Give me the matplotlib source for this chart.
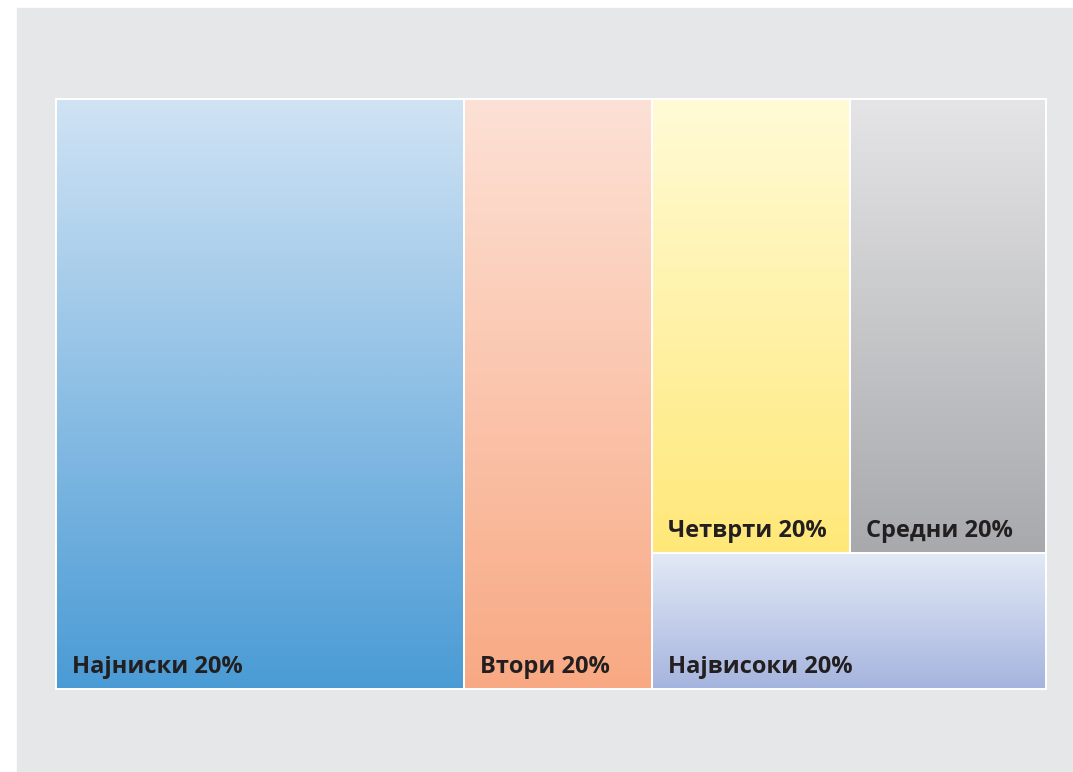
import numpy as np
import matplotlib.pyplot as plt
from matplotlib.colors import to_rgb
from matplotlib.patches import Rectangle

# quintile labels and their shares (read from the tile areas)
names = ['Најниски 20%', 'Втори 20%', 'Четврти 20%', 'Средни 20%', 'Највисоки 20%']
shares = [41.2, 19.0, 15.4, 15.2, 9.2]
top_colors = ['#d0e3f4', '#fde1d6', '#fffbd6', '#e5e5e7', '#e3eaf6']
bottom_colors = ['#4a9bd5', '#f8a983', '#ffe878', '#a8a9ac', '#a5b4de']

# slice-and-dice nesting: columns, then rows, then columns
tree = [0, 1, [[2, 3], 4]]


def total(node):
    if isinstance(node, int):
        return shares[node]
    return sum(total(c) for c in node)


def layout(node, x0, y0, x1, y1, horiz, out):
    if isinstance(node, int):
        out[node] = (x0, y0, x1, y1)
        return
    s = total(node)
    pos = x0 if horiz else y0
    for child in node:
        frac = total(child) / s
        if horiz:
            nxt = pos + frac * (x1 - x0)
            layout(child, pos, y0, nxt, y1, not horiz, out)
        else:
            nxt = pos + frac * (y1 - y0)
            layout(child, x0, pos, x1, nxt, not horiz, out)
        pos = nxt


W, H = 1073, 772
fig = plt.figure(figsize=(W / 100, H / 100), dpi=100)
ax = fig.add_axes([0, 0, 1, 1])
ax.set_xlim(0, W)
ax.set_ylim(H, 0)
ax.axis('off')

# grey panel
ax.add_patch(Rectangle((17, 8), W - 17, H - 8, color='#e6e7e8', zorder=0))

rects = {}
layout(tree, 56, 99, 1046, 689, True, rects)

for i, name in enumerate(names):
    x0, y0, x1, y1 = rects[i]
    c0 = np.array(to_rgb(top_colors[i]))
    c1 = np.array(to_rgb(bottom_colors[i]))
    t = np.linspace(0, 1, 256)[:, None]
    grad = (c0 + (c1 - c0) * t)[:, None, :]
    ax.imshow(grad, extent=(x0, x1, y1, y0), aspect='auto',
              interpolation='bilinear', zorder=1)
    ax.add_patch(Rectangle((x0, y0), x1 - x0, y1 - y0, fill=False,
                           edgecolor='white', linewidth=1.4, zorder=2))
    ax.text(x0 + 16, y1 - 16, name, ha='left', va='baseline',
            fontsize=17, fontweight='bold', color='#231f20',
            family=['Open Sans', 'DejaVu Sans'], zorder=3)

ax.set_xlim(0, W)
ax.set_ylim(H, 0)
fig.savefig('out.png', dpi=100)
